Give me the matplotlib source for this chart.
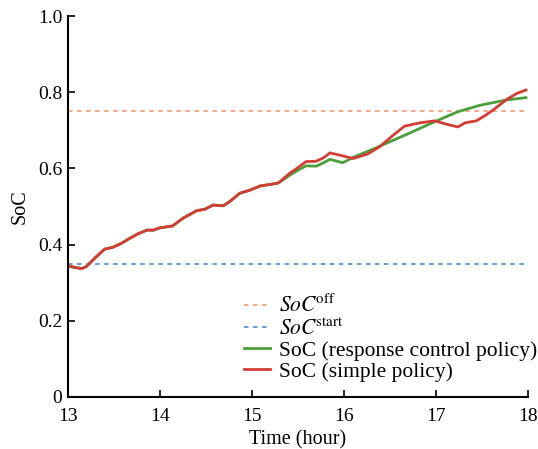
import matplotlib
matplotlib.use("Agg")
import matplotlib.pyplot as plt

plt.rcParams['font.family'] = ['Liberation Serif', 'DejaVu Serif']
plt.rcParams['mathtext.fontset'] = 'stix'

# Red: simple policy
t_simple = [13.0, 13.08, 13.15, 13.2, 13.3, 13.40, 13.49, 13.58, 13.67, 13.76, 13.86, 13.93, 14.0,
            14.14, 14.25, 14.40, 14.49, 14.58, 14.69, 14.76, 14.87, 14.98, 15.09, 15.20,
            15.29, 15.41, 15.50, 15.59, 15.70, 15.78, 15.85, 15.99, 16.10, 16.26, 16.39,
            16.54, 16.66, 16.83, 16.99, 17.12, 17.24, 17.32, 17.44, 17.53, 17.62, 17.77,
            17.88, 17.98]
soc_simple = [0.344, 0.340, 0.337, 0.342, 0.366, 0.388, 0.393, 0.403, 0.416, 0.428, 0.438, 0.438, 0.444,
              0.449, 0.469, 0.489, 0.493, 0.504, 0.502, 0.513, 0.535, 0.543, 0.554, 0.558,
              0.562, 0.587, 0.602, 0.618, 0.619, 0.628, 0.641, 0.633, 0.626, 0.638, 0.657,
              0.688, 0.711, 0.720, 0.725, 0.716, 0.709, 0.720, 0.725, 0.738, 0.753, 0.781,
              0.797, 0.806]

# Green: response control policy
t_resp = [13.0, 13.08, 13.15, 13.2, 13.3, 13.40, 13.49, 13.58, 13.67, 13.76, 13.86, 13.93, 14.0,
          14.14, 14.25, 14.40, 14.49, 14.58, 14.69, 14.76, 14.87, 14.98, 15.09, 15.20,
          15.29, 15.41, 15.50, 15.59, 15.70, 15.78, 15.85, 15.99, 16.10, 16.32, 16.66,
          16.99, 17.24, 17.48, 17.77, 17.98]
soc_resp = [0.344, 0.340, 0.337, 0.342, 0.366, 0.388, 0.393, 0.403, 0.416, 0.428, 0.438, 0.438, 0.444,
            0.449, 0.469, 0.489, 0.493, 0.504, 0.502, 0.513, 0.535, 0.543, 0.554, 0.558,
            0.562, 0.582, 0.595, 0.607, 0.606, 0.615, 0.624, 0.615, 0.629, 0.651, 0.687,
            0.723, 0.749, 0.766, 0.780, 0.786]

soc_off = 0.75
soc_start = 0.35
x_ticks = [13, 14, 15, 16, 17, 18]
y_ticks = [0, 0.2, 0.4, 0.6, 0.8, 1.0]
y_ticklabels = ['0', '0.2', '0.4', '0.6', '0.8', '1.0']

fig = plt.figure(figsize=(5.38, 4.49), dpi=100)
ax = fig.add_axes([0.126, 0.116, 0.855, 0.848])

ax.axhline(soc_off, color='#f4a07c', lw=1.3, dashes=(2.5, 2.5), label=r'$\mathit{SoC}^{\!\mathrm{off}}$')
ax.axhline(soc_start, color='#5b93d3', lw=1.3, dashes=(2.5, 2.5), label=r'$\mathit{SoC}^{\!\mathrm{start}}$')
ax.plot(t_resp, soc_resp, color='#4a9e3c', lw=2, label='SoC (response control policy)')
ax.plot(t_simple, soc_simple, color='#d43d35', lw=2, label='SoC (simple policy)')

ax.set_xlim(13, 18)
ax.set_ylim(0, 1.0)
ax.set_xticks(x_ticks)
ax.set_yticks(y_ticks)
ax.set_yticklabels(y_ticklabels)
ax.tick_params(direction='in', length=5, width=1.2, labelsize=14)
ax.tick_params(axis='x', pad=8)
ax.tick_params(axis='y', pad=4)
for s in ['top', 'right']:
    ax.spines[s].set_visible(False)
for s in ['left', 'bottom']:
    ax.spines[s].set_linewidth(1.5)
ax.set_xlabel('Time (hour)', fontsize=14.5, labelpad=3.5)
ax.set_ylabel('SoC', fontsize=14.5, labelpad=6)

leg = ax.legend(loc='lower right', frameon=False, fontsize=15.5, handlelength=1.2,
                handletextpad=0.4, labelspacing=0.05, borderaxespad=0.3,
                bbox_to_anchor=(1.053, 0.0))

fig.savefig('out.png', dpi=100)
